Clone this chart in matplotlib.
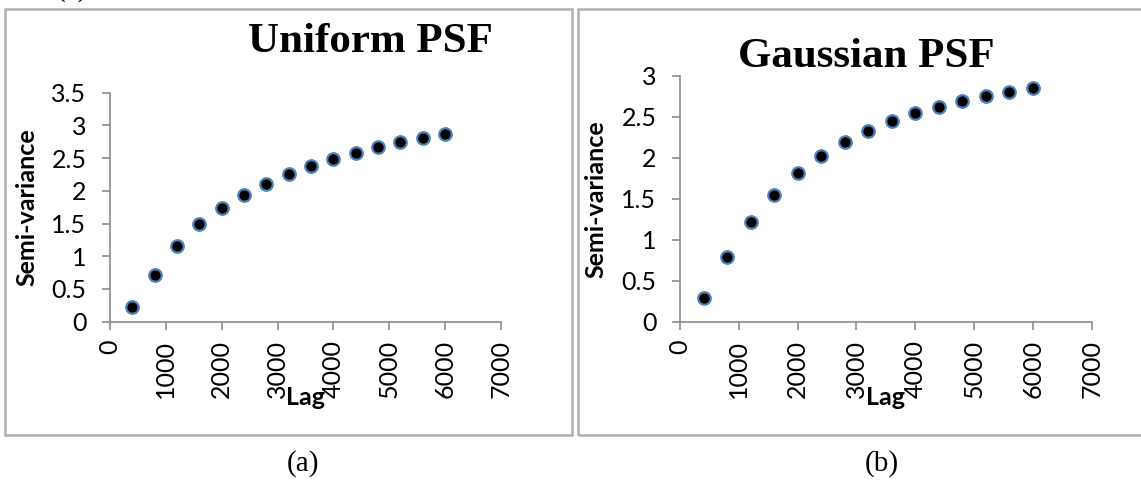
import matplotlib
matplotlib.use("Agg")
import matplotlib.pyplot as plt
from matplotlib.patches import Rectangle

# lag distances (same for both panels)
lags = [400, 800, 1200, 1600, 2000, 2400, 2800, 3200, 3600, 4000, 4400, 4800, 5200, 5600, 6000]

# semi-variance values
uniform_sv = [0.23, 0.71, 1.16, 1.49, 1.74, 1.94, 2.11, 2.25, 2.38, 2.49, 2.58, 2.67, 2.74, 2.81, 2.87]
gaussian_sv = [0.29, 0.79, 1.22, 1.55, 1.81, 2.02, 2.19, 2.33, 2.45, 2.54, 2.62, 2.69, 2.75, 2.80, 2.85]

x_ticks = [0, 1000, 2000, 3000, 4000, 5000, 6000, 7000]
uniform_yticks = [0, 0.5, 1, 1.5, 2, 2.5, 3, 3.5]
gaussian_yticks = [0, 0.5, 1, 1.5, 2, 2.5, 3]

W, H = 1141, 483
SANS = "Lato"
SERIF = "Liberation Serif"
AXIS_GRAY = "#8c8c8c"


def px_rect(x0, y0, x1, y1):
    # pixel box (top-left origin) -> figure fraction [left, bottom, width, height]
    return [x0 / W, 1 - y1 / H, (x1 - x0) / W, (y1 - y0) / H]


def draw_panel(ax, y, yticks, title, title_xy):
    ax.plot(lags, y, linestyle="none", marker="o", markersize=9,
            markerfacecolor="black", markeredgecolor="#4f81bd", markeredgewidth=1.6,
            clip_on=False)
    ax.set_xlim(0, 7000)
    ax.set_ylim(0, yticks[-1])
    ax.set_xticks(x_ticks)
    ax.set_yticks(yticks)
    ax.set_yticklabels([f"{t:g}" for t in yticks])
    ax.set_xticklabels([str(t) for t in x_ticks], rotation=90)
    for side in ("top", "right"):
        ax.spines[side].set_visible(False)
    for side in ("left", "bottom"):
        ax.spines[side].set_color(AXIS_GRAY)
        ax.spines[side].set_linewidth(1.2)
    ax.tick_params(axis="both", direction="out", length=6, width=1.2, color=AXIS_GRAY,
                   labelsize=18, labelcolor="black")
    ax.tick_params(axis="y", pad=11)
    ax.tick_params(axis="x", pad=7)
    for lab in ax.get_xticklabels() + ax.get_yticklabels():
        lab.set_family(SANS)
    ax.set_ylabel("Semi-variance", fontsize=18, fontweight="bold", family=SANS)
    ax.set_xlabel("Lag", fontsize=18, fontweight="bold", family=SANS)
    ax.patch.set_alpha(0)
    fig.text(title_xy[0] / W, 1 - title_xy[1] / H, title, fontsize=31, fontweight="bold",
             family=SERIF, ha="center", va="baseline")


fig = plt.figure(figsize=(W / 100, H / 100), dpi=100)

# panel frames
for x0, x1 in ((5, 571.5), (577.5, 1150)):
    fig.patches.append(Rectangle((x0 / W, 1 - 435 / H), (x1 - x0) / W, (435 - 8.5) / H,
                                 transform=fig.transFigure, fill=False,
                                 edgecolor="#b0b0b0", linewidth=1.8))

ax1 = fig.add_axes(px_rect(110, 92.7, 501, 321.7))
draw_panel(ax1, uniform_sv, uniform_yticks, "Uniform PSF", (370, 52))
ax1.xaxis.set_label_coords(0.5, -0.28)
ax1.yaxis.set_label_coords(-0.184, 0.5)

ax2 = fig.add_axes(px_rect(680, 75.7, 1091.7, 321.7))
draw_panel(ax2, gaussian_sv, gaussian_yticks, "Gaussian PSF", (866, 67))
ax2.xaxis.set_label_coords(0.5, -0.26)
ax2.yaxis.set_label_coords(-0.175, 0.5)

# captions
fig.text(303 / W, 1 - 464 / H, "(a)", fontsize=21, family=SERIF, ha="center", va="center")
fig.text(882 / W, 1 - 464 / H, "(b)", fontsize=21, family=SERIF, ha="center", va="center")
# caption cut off at the top edge, as in the source image
fig.text(72 / W, 1 + 11 / H, "(a)", fontsize=21, family=SERIF, ha="center", va="center")

fig.savefig("out.png", dpi=100)
